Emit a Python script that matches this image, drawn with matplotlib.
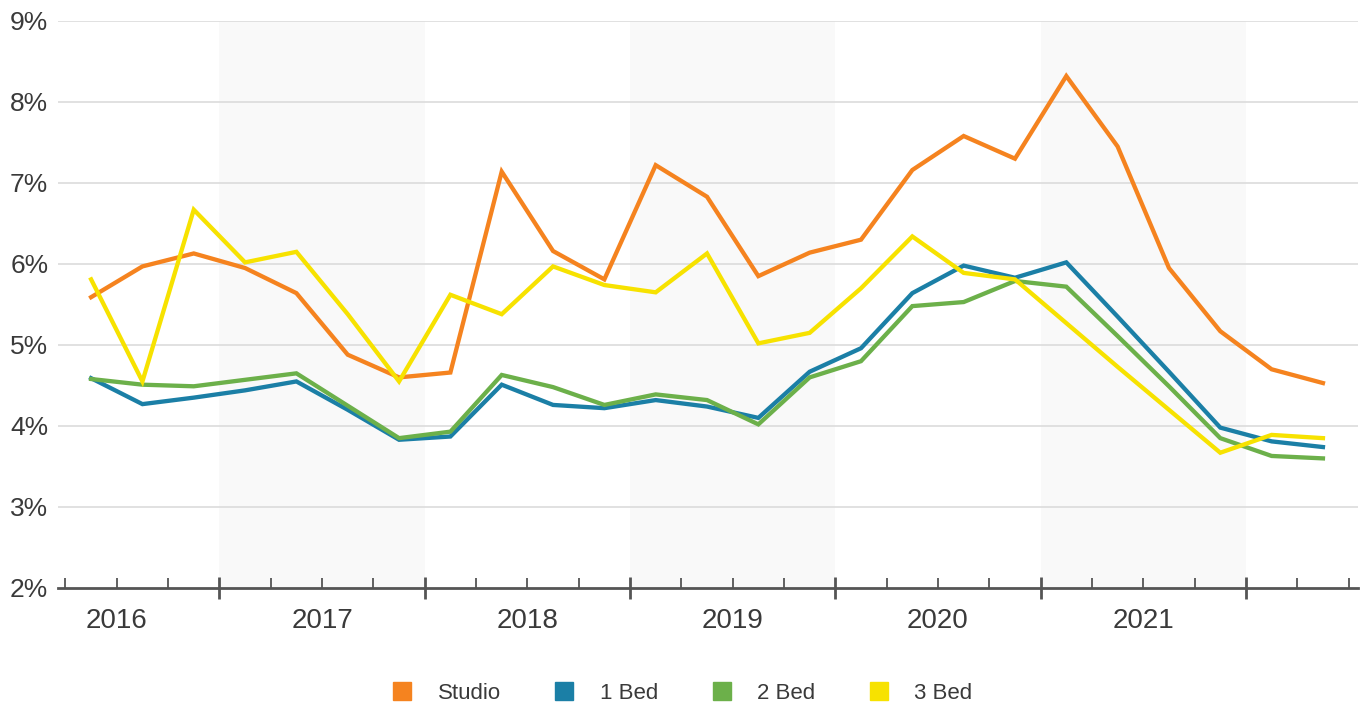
import numpy as np
import matplotlib.pyplot as plt
from matplotlib.lines import Line2D

plt.rcParams['font.family'] = ['Liberation Sans', 'DejaVu Sans']

# quarters 2016 Q2 .. 2022 Q2
quarters = ['2016Q2', '2016Q3', '2016Q4',
            '2017Q1', '2017Q2', '2017Q3', '2017Q4',
            '2018Q1', '2018Q2', '2018Q3', '2018Q4',
            '2019Q1', '2019Q2', '2019Q3', '2019Q4',
            '2020Q1', '2020Q2', '2020Q3', '2020Q4',
            '2021Q1', '2021Q2', '2021Q3', '2021Q4',
            '2022Q1', '2022Q2']

studio = [5.59, 5.97, 6.13, 5.95, 5.64, 4.88, 4.60, 4.66, 7.14, 6.16, 5.81, 7.22, 6.83,
          5.85, 6.14, 6.30, 7.16, 7.58, 7.30, 8.32, 7.45, 5.95, 5.17, 4.70, 4.53]
bed1 = [4.59, 4.27, 4.35, 4.44, 4.55, 4.20, 3.83, 3.87, 4.51, 4.26, 4.22, 4.32, 4.24,
        4.10, 4.67, 4.96, 5.64, 5.98, 5.83, 6.02, 5.35, 4.67, 3.98, 3.81, 3.74]
bed2 = [4.58, 4.51, 4.49, 4.57, 4.65, 4.25, 3.85, 3.93, 4.63, 4.48, 4.26, 4.39, 4.32,
        4.02, 4.60, 4.80, 5.48, 5.53, 5.79, 5.72, 5.11, 4.49, 3.85, 3.63, 3.60]
bed3 = [5.81, 4.55, 6.67, 6.02, 6.15, 5.38, 4.55, 5.62, 5.38, 5.97, 5.74, 5.65, 6.13,
        5.02, 5.15, 5.70, 6.34, 5.89, 5.81, 5.27, 4.73, 4.20, 3.67, 3.89, 3.85]

series = ['Studio', '1 Bed', '2 Bed', '3 Bed']
colors = ['#f5831f', '#1b7fa6', '#6cb04a', '#f7e200']
year_labels = [2016, 2017, 2018, 2019, 2020, 2021]

# quarter centre as fractional year
x = np.array([int(q[:4]) + (int(q[-1]) - 0.5) / 4 for q in quarters])

fig = plt.figure(figsize=(13.69, 7.11), dpi=100)
ax = fig.add_axes([0.0424, 0.173, 0.9496, 0.7975])

# alternating year shading (very faint)
for yr in [2017, 2019, 2021]:
    ax.axvspan(yr, yr + 1, color='#f9f9f9', zorder=0, lw=0)

for v in range(3, 10):
    ax.axhline(v, color='#dcdcdc', lw=1.2, zorder=1)

for vals, c, name in zip([studio, bed1, bed2, bed3], colors, series):
    ax.plot(x, vals, color=c, lw=3.1, label=name, zorder=3, solid_joinstyle='miter')

ax.set_xlim(2016.214, 2022.546)
ax.set_ylim(2, 9)

for s in ['top', 'right', 'left']:
    ax.spines[s].set_visible(False)
ax.spines['bottom'].set_color('#555555')
ax.spines['bottom'].set_linewidth(2)

ax.set_yticks(range(2, 10))
ax.set_yticklabels([f'{v}%' for v in range(2, 10)], fontsize=19, color='#3a3a3a')
ax.tick_params(axis='y', length=0, pad=7)

ax.set_xticks(range(2017, 2023))
ax.set_xticklabels([])
ax.set_xticks(np.arange(2016.25, 2022.6, 0.25), minor=True)
ax.tick_params(axis='x', which='major', direction='inout', length=16, width=2, color='#555555')
ax.tick_params(axis='x', which='minor', direction='in', length=7, width=1.3, color='#555555')

for yr in year_labels:
    ax.text(yr + 0.5, -0.058, str(yr), transform=ax.get_xaxis_transform(),
            ha='center', va='center', fontsize=20, color='#3a3a3a')

handles = [Line2D([], [], marker='s', linestyle='none', markersize=13,
                  markerfacecolor=c, markeredgecolor=c) for c in colors]
fig.legend(handles, series, loc='center', bbox_to_anchor=(0.494, 0.025), ncol=4,
           frameon=False, fontsize=16, columnspacing=1.85, handletextpad=0.6,
           labelcolor='#3a3a3a')

fig.savefig('out.png', dpi=100, facecolor='white')
